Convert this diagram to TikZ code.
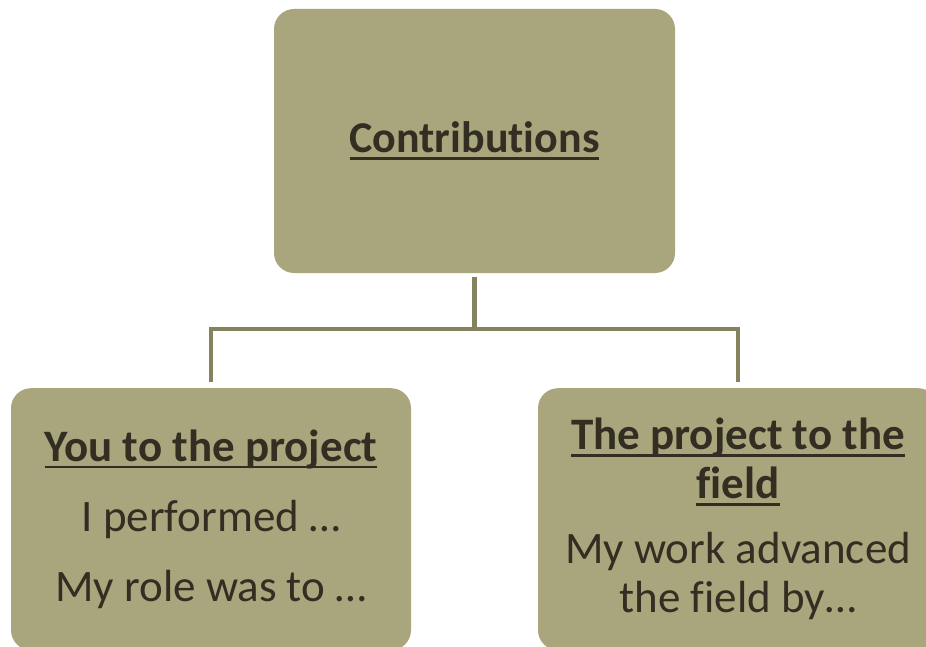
\documentclass[tikz,border=0pt]{standalone}
\usepackage{fontspec}
\setmainfont{Carlito}

\definecolor{khaki}{RGB}{169,165,124}
\definecolor{twigcol}{RGB}{132,130,95}
\definecolor{ink}{RGB}{50,46,34}

% underlined heading, thick rule like the slide
\newcommand{\ulhead}[1]{\sbox0{#1}\rlap{\rule[-7pt]{\wd0}{2.7pt}}\usebox0}
% keeps Carlito from joining ti / fi
\newcommand{\nolig}{\kern0pt}

\tikzset{
  card/.style={fill=khaki, rounded corners=20pt, text=ink, align=center, inner sep=0pt},
  twig/.style={draw=twigcol, line width=4.5pt}
}

\begin{document}
\begin{tikzpicture}[x=1pt, y=-1pt]
  \useasboundingbox (0,0) rectangle (926,647);

  \node[card, minimum width=401pt, minimum height=264pt,
        font=\fontsize{44}{54}\selectfont\bfseries] (contrib) at (474.5,141)
        {\ulhead{Contribut\nolig ions}};

  \node[card, minimum width=400pt, minimum height=262pt, anchor=north,
        font=\fontsize{45}{70}\selectfont] (you) at (211,388)
        {\textbf{\ulhead{You to the project}}\\ I performed \dots\\ My role was to \dots};

  \node[card, minimum width=400pt, minimum height=262pt, anchor=north,
        font=\fontsize{45}{49}\selectfont] (field) at (738,388)
        {\textbf{\ulhead{The project to the}}\\ \textbf{\ulhead{f\nolig ield}}\\[16pt]
         My work advanced\\ the f\nolig ield by\dots};

  % tree connectors
  \coordinate (fork) at (474.5,329);
  \draw[twig] ([yshift=-4pt]contrib.south) -- (fork);
  \draw[twig] ([yshift=6pt]you.north) |- (fork) -| ([yshift=6pt]field.north);
\end{tikzpicture}
\end{document}
